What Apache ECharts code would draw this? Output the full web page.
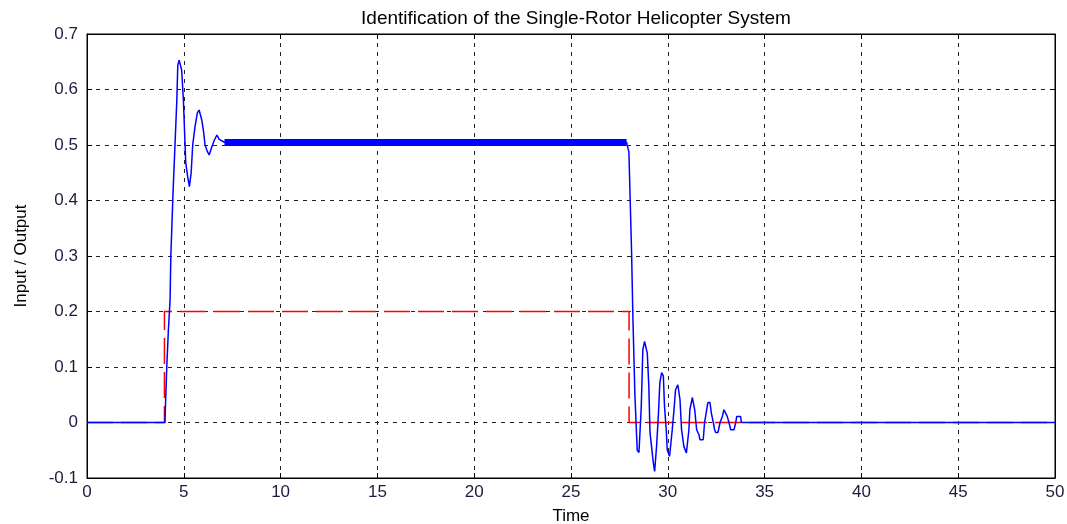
<!DOCTYPE html>
<html>
<head>
<meta charset="utf-8">
<script src="https://cdn.jsdelivr.net/npm/echarts@6/dist/echarts.min.js"></script>
<style>
html,body{margin:0;padding:0;background:#fff;}
#chart{width:1067px;height:524px;}
</style>
</head>
<body>
<div id="chart"></div>
<script>
// Input signal (red dashed step)
const inputTimes = [0, 4.0, 4.0, 28.0, 28.0, 50];
const inputValues = [0, 0, 0.2, 0.2, 0, 0];

// Output signal (blue)
const outputTimes = [0, 4.03, 4.05, 4.12, 4.2, 4.29, 4.33, 4.45, 4.55, 4.64, 4.69, 4.76, 4.84, 4.89, 4.98, 5.10, 5.20, 5.29, 5.38, 5.46, 5.58, 5.70, 5.79, 5.93, 6.01, 6.10, 6.22, 6.31, 6.45, 6.58, 6.71, 6.83, 7.1,
  27.87, 27.9, 27.99, 28.04, 28.13, 28.2, 28.3, 28.42, 28.51, 28.63, 28.71, 28.80, 28.90, 28.94, 29.02, 29.08, 29.16, 29.25, 29.32, 29.37, 29.42, 29.51, 29.59, 29.68, 29.77, 29.83, 29.92, 29.97, 30.09, 30.23, 30.32, 30.40, 30.52, 30.63, 30.71, 30.83, 30.96, 31.09, 31.14, 31.27, 31.39, 31.49, 31.61, 31.66, 31.83, 31.90, 32.01, 32.07, 32.18, 32.25, 32.35, 32.42, 32.47, 32.59, 32.70, 32.82, 32.90, 32.99, 33.07, 33.16, 33.25, 33.42, 33.51, 33.56, 33.76, 33.80, 50];
const outputValues = [0, 0, 0.027, 0.10, 0.164, 0.22, 0.30, 0.42, 0.504, 0.581, 0.644, 0.653, 0.653, 0.635, 0.58, 0.468, 0.443, 0.425, 0.45, 0.50, 0.533, 0.558, 0.563, 0.545, 0.527, 0.50, 0.488, 0.482, 0.497, 0.509, 0.518, 0.51, 0.505,
  0.505, 0.50, 0.488, 0.423, 0.306, 0.185, 0.05, -0.05, -0.054, 0.029, 0.131, 0.146, 0.146, 0.125, 0.065, -0.018, -0.043, -0.072, -0.088, -0.088, -0.043, 0.011, 0.072, 0.09, 0.084, 0.029, -0.013, -0.049, -0.061, -0.013, 0.023, 0.059, 0.068, 0.041, -0.013, -0.043, -0.055, -0.013, 0.023, 0.045, 0.023, -0.013, -0.022, -0.031, -0.031, 0, 0.023, 0.036, 0.036, 0.017, 0, -0.013, -0.018, -0.018, 0, 0.011, 0.023, 0.023, 0.011, 0, -0.013, -0.013, 0, 0.011, 0.011, 0, 0];

// Quantisation chatter band on the plateau
const bandTimes = [7.1, 27.87];
const bandValues = [0.5045, 0.5045];

const xTicks = [0, 5, 10, 15, 20, 25, 30, 35, 40, 45, 50];
const yTicks = [-0.1, 0, 0.1, 0.2, 0.3, 0.4, 0.5, 0.6, 0.7];

const zip = (a, b) => a.map((v, i) => [v, b[i]]);
const labelColor = '#1c1c3c';
const fontFam = 'Liberation Sans, Arial, sans-serif';
const gridLine = {show: true, lineStyle: {color: '#222', type: [4, 5], width: 1}};

const chart = echarts.init(document.getElementById('chart'));
chart.setOption({
  animation: false,
  backgroundColor: '#fff',
  title: {
    text: 'Identification of the Single-Rotor Helicopter System',
    left: 571, top: 4, textAlign: 'center',
    textStyle: {fontFamily: fontFam, fontSize: 19, fontWeight: 'normal', color: '#000'}
  },
  grid: {left: 87, right: 12, top: 34, bottom: 46, show: true, borderColor: '#000', borderWidth: 1,
    containLabel: false, outerBoundsMode: 'none'},
  xAxis: [{
    type: 'value', min: xTicks[0], max: xTicks[xTicks.length - 1], interval: 5,
    name: 'Time', nameLocation: 'middle', nameGap: 30,
    nameTextStyle: {fontFamily: fontFam, fontSize: 17, color: '#000'},
    axisLine: {show: true, onZero: false, lineStyle: {color: '#000'}},
    axisTick: {show: true, inside: true, length: 5, lineStyle: {color: '#000'}},
    axisLabel: {fontFamily: fontFam, fontSize: 17, color: labelColor, margin: 6},
    splitLine: gridLine
  }, {
    type: 'value', position: 'top', min: 0, max: 50, interval: 5,
    axisLine: {show: true, onZero: false, lineStyle: {color: '#000'}},
    axisTick: {show: true, inside: true, length: 5, lineStyle: {color: '#000'}},
    axisLabel: {show: false}, splitLine: {show: false}
  }],
  yAxis: [{
    type: 'value', min: yTicks[0], max: yTicks[yTicks.length - 1], interval: 0.1,
    name: 'Input / Output', nameLocation: 'middle', nameGap: 57, nameRotate: 90,
    nameTextStyle: {fontFamily: fontFam, fontSize: 17, color: '#000'},
    axisLine: {show: true, onZero: false, lineStyle: {color: '#000'}},
    axisTick: {show: true, inside: true, length: 5, lineStyle: {color: '#000'}},
    axisLabel: {fontFamily: fontFam, fontSize: 17, color: labelColor, margin: 9,
      formatter: v => (Math.round(v * 10) / 10).toString()},
    splitLine: gridLine
  }, {
    type: 'value', position: 'right', min: -0.1, max: 0.7, interval: 0.1,
    axisLine: {show: true, onZero: false, lineStyle: {color: '#000'}},
    axisTick: {show: true, inside: true, length: 5, lineStyle: {color: '#000'}},
    axisLabel: {show: false}, splitLine: {show: false}
  }],
  series: [{
    name: 'Input', type: 'line', data: zip(inputTimes, inputValues),
    showSymbol: false, symbol: 'none',
    lineStyle: {color: '#ff0000', width: 1.5, type: [26, 8]}, z: 2
  }, {
    name: 'Output', type: 'line', data: zip(outputTimes, outputValues),
    showSymbol: false, symbol: 'none',
    lineStyle: {color: '#0000ff', width: 1.5}, z: 3
  }, {
    name: 'Chatter', type: 'line', data: zip(bandTimes, bandValues),
    showSymbol: false, symbol: 'none',
    lineStyle: {color: '#0000ff', width: 7}, z: 3
  }]
});
</script>
</body>
</html>
